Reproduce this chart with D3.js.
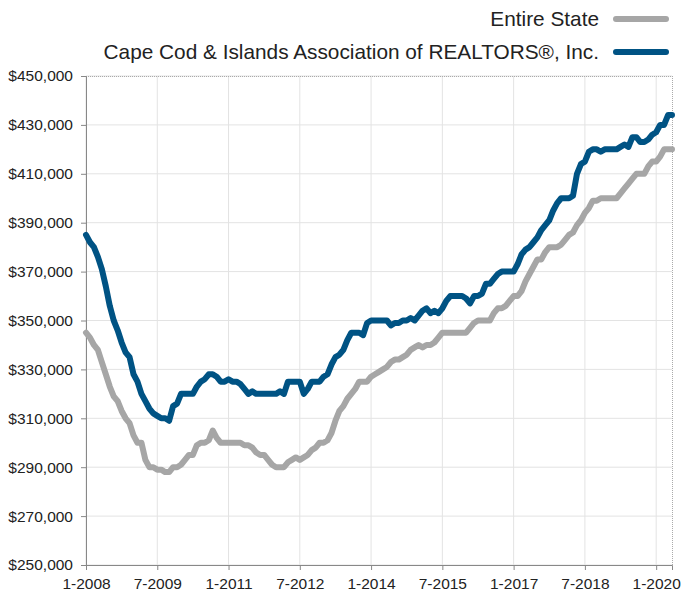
<!DOCTYPE html>
<html><head><meta charset="utf-8">
<script src="https://cdn.jsdelivr.net/npm/d3@7"></script>
<style>body{margin:0;background:#fff;} svg{display:block;font-family:"Liberation Sans",Arial,sans-serif;}</style>
</head><body><svg id="c" width="681" height="592"></svg>
<script>
const tickLabels = ["1-2008","7-2009","1-2011","7-2012","1-2014","7-2015","1-2017","7-2018","1-2020"];
const tickMonths = [0,18,36,54,72,90,108,126,144];
const yTicks = [250000,270000,290000,310000,330000,350000,370000,390000,410000,430000,450000];
const seriesNames = ["Entire State","Cape Cod & Islands Association of REALTORS®, Inc."];
const entireState = [345000,343000,340000,338000,333000,328000,323000,319000,317000,313000,
310000,308000,303000,300000,300000,293000,290000,290000,289000,289000,
288000,288000,290000,290000,291000,293000,295000,295000,299000,300000,
300000,301000,305000,302000,300000,300000,300000,300000,300000,300000,
299000,299000,298000,296000,295000,295000,293000,291000,290000,290000,
290000,292000,293000,294000,293000,294000,295000,297000,298000,300000,
300000,301000,304000,309000,313000,315000,318000,320000,322000,325000,
325000,325000,327000,328000,329000,330000,331000,333000,334000,334000,
335000,336000,338000,339000,340000,339000,340000,340000,341000,343000,
345000,345000,345000,345000,345000,345000,345000,347000,349000,350000,
350000,350000,350000,353000,355000,355000,356000,358000,360000,360000,
362000,366000,369000,372000,375000,375000,378000,380000,380000,380000,
381000,383000,385000,386000,389000,391000,394000,396000,399000,399000,
400000,400000,400000,400000,400000,402000,404000,406000,408000,410000,
410000,410000,413000,415000,415000,417000,420000,420000,420000];
const capeCod = [385000,382000,380000,376000,371000,364000,356000,350000,346000,341000,
337000,335000,328000,325000,320000,317000,314000,312000,311000,310000,
310000,309000,315000,316000,320000,320000,320000,320000,323000,325000,
326000,328000,328000,327000,325000,325000,326000,325000,325000,324000,
322000,320000,321000,320000,320000,320000,320000,320000,320000,321000,
320000,325000,325000,325000,325000,320000,322000,325000,325000,325000,
327000,328000,332000,335000,336000,338000,342000,345000,345000,345000,
344000,349000,350000,350000,350000,350000,350000,348000,349000,349000,
350000,350000,351000,350000,352000,354000,355000,353000,354000,353000,
355000,358000,360000,360000,360000,360000,359000,357000,360000,360000,
361000,365000,365000,367000,369000,370000,370000,370000,370000,373000,
377000,379000,380000,382000,384000,387000,389000,391000,395000,398000,
400000,400000,400000,401000,410000,414000,415000,419000,420000,420000,
419000,420000,420000,420000,420000,421000,422000,421000,425000,425000,
423000,423000,424000,426000,427000,430000,430000,434000,434000];
const colors = ["#a6a6a6","#005384"];

const svg = d3.select("#c");
const L=86,R=672,T=76,B=565;
const x = d3.scaleLinear().domain([0,148]).range([L,R]);
const y = d3.scaleLinear().domain([250000,450000]).range([B,T]);

// grid
const g = svg.append("g");
g.selectAll(".hg").data(yTicks).join("line")
 .attr("x1",L).attr("x2",R).attr("y1",d=>y(d)).attr("y2",d=>y(d))
 .attr("stroke","#e3e3e3").attr("stroke-width",1);
g.selectAll(".vg").data(tickMonths).join("line")
 .attr("y1",T).attr("y2",B).attr("x1",d=>x(d)).attr("x2",d=>x(d))
 .attr("stroke","#e3e3e3").attr("stroke-width",1);
// dotted frame top/right
svg.append("line").attr("x1",L).attr("x2",R).attr("y1",T+0.5).attr("y2",T+0.5).attr("stroke","#aaa").attr("stroke-dasharray","1,1");
svg.append("line").attr("x1",R+0.5).attr("x2",R+0.5).attr("y1",T).attr("y2",B).attr("stroke","#aaa").attr("stroke-dasharray","1,1");

// axes
const fmt = d3.format("$,");
const ya = svg.append("g").attr("transform",`translate(${L},0)`)
 .call(d3.axisLeft(y).tickValues(yTicks).tickFormat(fmt).tickSize(5).tickPadding(8));
const xa = svg.append("g").attr("transform",`translate(0,${B})`)
 .call(d3.axisBottom(x).tickValues(tickMonths).tickFormat((d,i)=>tickLabels[i]).tickSize(5).tickPadding(8));
[ya,xa].forEach(a=>{
  a.select(".domain").attr("stroke","#888");
  a.selectAll(".tick line").attr("stroke","#888");
  a.selectAll("text").attr("fill","#222").style("font-size","15.5px").style("font-family","'Liberation Sans',Arial,sans-serif");
});

// lines
const line = d3.line().x((d,i)=>x(i)).y(d=>y(d)).curve(d3.curveLinear);
[entireState,capeCod].forEach((s,k)=>{
  svg.append("path").datum(s).attr("d",line).attr("fill","none")
   .attr("stroke",colors[k]).attr("stroke-width",6)
   .attr("stroke-linejoin","round").attr("stroke-linecap","round");
});

// legend
const leg = svg.append("g");
seriesNames.forEach((n,k)=>{
  const yy = 19 + k*33;
  leg.append("text").attr("x",599).attr("y",yy).attr("dy","0.35em").attr("text-anchor","end")
   .attr("fill","#222").style("font-size","20.8px").text(n);
  leg.append("line").attr("x1",616).attr("x2",666).attr("y1",yy).attr("y2",yy)
   .attr("stroke",colors[k]).attr("stroke-width",6).attr("stroke-linecap","round");
});
</script></body></html>
